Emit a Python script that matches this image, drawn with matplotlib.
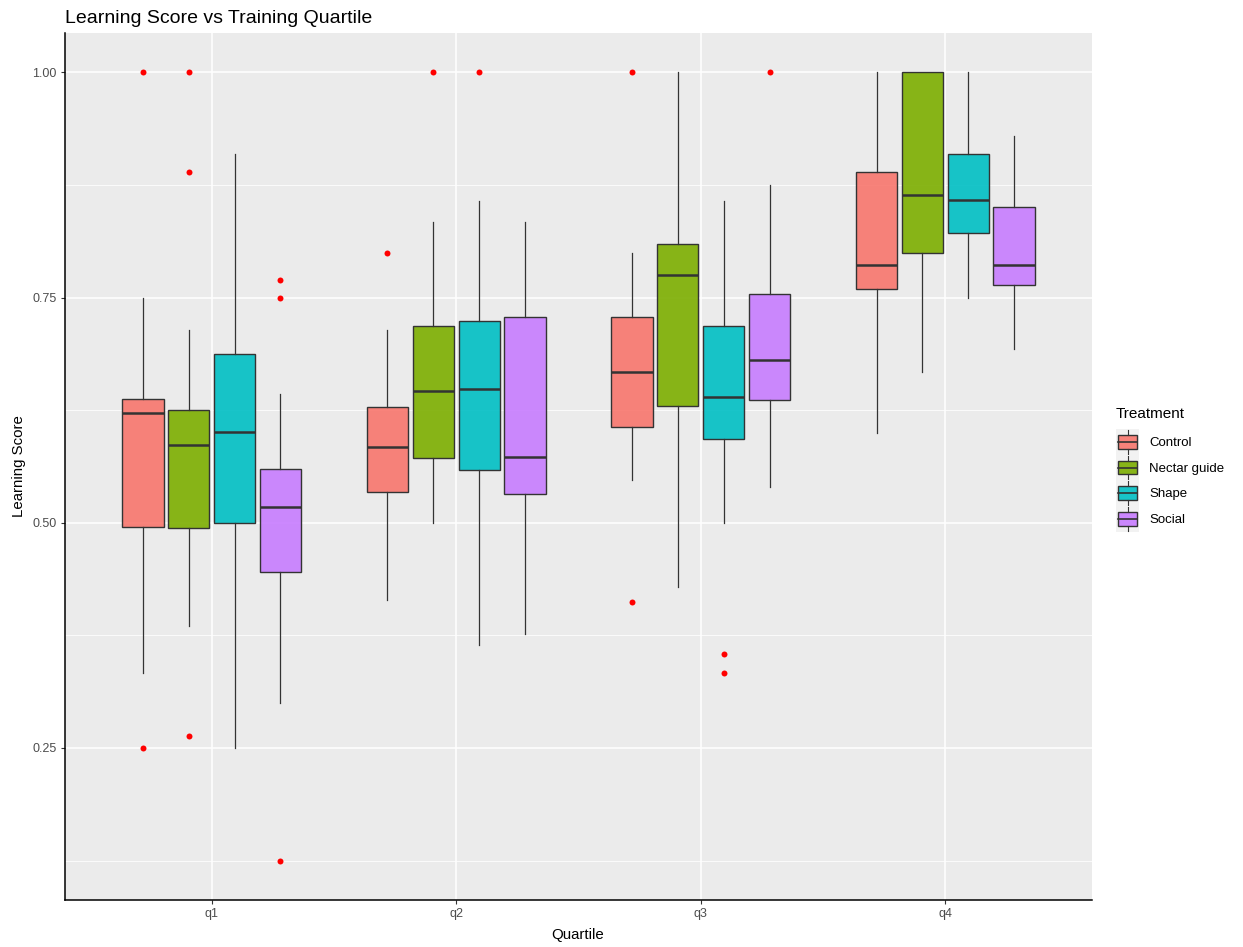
import matplotlib
matplotlib.use('Agg')
import matplotlib.pyplot as plt
from matplotlib.legend_handler import HandlerBase
from matplotlib.patches import Rectangle, Patch
from matplotlib.lines import Line2D
from matplotlib.colors import to_rgba

plt.rcParams['font.family'] = ['Liberation Sans', 'DejaVu Sans']

quartiles = ['q1', 'q2', 'q3', 'q4']
treatments = ['Control', 'Nectar guide', 'Shape', 'Social']
fills = ['#F8766D', '#7CAE00', '#00BFC4', '#C77CFF']

# per quartile: lower whisker, Q1, median, Q3, upper whisker
control = [[0.333, 0.495, 0.622, 0.637, 0.750],
           [0.414, 0.534, 0.584, 0.629, 0.714],
           [0.547, 0.606, 0.667, 0.728, 0.800],
           [0.600, 0.760, 0.786, 0.889, 1.000]]
nectar = [[0.385, 0.494, 0.586, 0.625, 0.714],
          [0.500, 0.572, 0.646, 0.719, 0.834],
          [0.429, 0.630, 0.775, 0.809, 1.000],
          [0.667, 0.800, 0.864, 1.000, 1.000]]
shape = [[0.250, 0.500, 0.601, 0.687, 0.909],
         [0.364, 0.559, 0.648, 0.724, 0.857],
         [0.500, 0.593, 0.640, 0.718, 0.857],
         [0.750, 0.822, 0.858, 0.909, 1.000]]
social = [[0.300, 0.445, 0.518, 0.560, 0.643],
          [0.377, 0.532, 0.573, 0.729, 0.834],
          [0.540, 0.636, 0.681, 0.754, 0.875],
          [0.693, 0.764, 0.786, 0.851, 0.929]]

control_out = [[0.25, 1.0], [0.80], [0.412, 1.0], []]
nectar_out = [[0.263, 0.889, 1.0], [1.0], [], []]
shape_out = [[], [1.0], [0.333, 0.354], []]
social_out = [[0.125, 0.75, 0.769], [], [1.0], []]

groups = [(control, control_out), (nectar, nectar_out),
          (shape, shape_out), (social, social_out)]


class BoxKey(HandlerBase):
    def create_artists(self, legend, orig_handle, xdescent, ydescent,
                       width, height, fontsize, trans):
        x0, y0 = -xdescent, -ydescent
        bg = Rectangle((x0, y0), width, height, facecolor='#F2F2F2',
                       edgecolor='none', transform=trans)
        bx, bw = x0 + width * 0.08, width * 0.84
        by, bh = y0 + height * 0.23, height * 0.54
        box = Rectangle((bx, by), bw, bh, facecolor=orig_handle.get_facecolor(),
                        edgecolor='#333333', lw=1.0, transform=trans)
        cx = x0 + width / 2
        med = Line2D([bx, bx + bw], [y0 + height / 2] * 2, color='#333333',
                     lw=1.2, transform=trans)
        up = Line2D([cx, cx], [by + bh, y0 + height * 0.96], color='#333333',
                    lw=0.8, transform=trans)
        lo = Line2D([cx, cx], [y0 + height * 0.04, by], color='#333333',
                    lw=0.8, transform=trans)
        return [bg, box, med, up, lo]


W, H = 1243, 947
fig = plt.figure(figsize=(W / 100, H / 100), dpi=100)
ax = fig.add_axes([65 / W, 1 - 900 / H, (1092 - 65) / W, (900 - 33) / H])
ax.set_facecolor('#EBEBEB')

dodge = 0.75 / len(treatments)
for i, ((stats5, outs), col) in enumerate(zip(groups, fills)):
    stats = []
    for s, o in zip(stats5, outs):
        stats.append(dict(whislo=s[0], q1=s[1], med=s[2], q3=s[3],
                          whishi=s[4], fliers=o))
    pos = [k + 1 + (i - 1.5) * dodge for k in range(len(quartiles))]
    ax.bxp(stats, positions=pos, widths=dodge * 0.9, patch_artist=True,
           showcaps=False, manage_ticks=False,
           boxprops=dict(facecolor=to_rgba(col, 0.9), edgecolor='#333333', lw=1.0),
           medianprops=dict(color='#333333', lw=1.8),
           whiskerprops=dict(color='#333333', lw=0.9),
           flierprops=dict(marker='o', markerfacecolor='red',
                           markeredgecolor='none', markersize=4.3))

ax.set_xlim(0.4, 4.6)
ax.set_ylim(0.08125, 1.04375)
ax.set_xticks(range(1, 5))
ax.set_xticklabels(quartiles)
ax.set_yticks([0.25, 0.5, 0.75, 1.0])
ax.set_yticklabels(['0.25', '0.50', '0.75', '1.00'])
ax.set_yticks([0.125, 0.375, 0.625, 0.875], minor=True)
ax.grid(which='major', color='white', lw=1.1)
ax.grid(which='minor', axis='y', color='white', lw=0.55)
ax.set_axisbelow(True)
ax.tick_params(which='major', length=3, color='#333333', labelcolor='#4D4D4D',
               labelsize=9, pad=3)
ax.tick_params(which='minor', length=0)
for side in ['top', 'right']:
    ax.spines[side].set_visible(False)
for side in ['left', 'bottom']:
    ax.spines[side].set_color('black')
    ax.spines[side].set_linewidth(1.1)

fig.text(65 / W, 1 - 23 / H, 'Learning Score vs Training Quartile',
         fontsize=14, ha='left', va='baseline')
fig.text(19 / W, 1 - 466 / H, 'Learning Score', fontsize=10.8, rotation=90,
         ha='center', va='center')
fig.text(578 / W, 1 - 935 / H, 'Quartile', fontsize=10.8,
         ha='center', va='center')

# legend title placed on its own so the gap above the keys can be set
fig.text(1116 / W, 1 - 414 / H, 'Treatment', fontsize=11,
         ha='left', va='center')
handles = [Patch(facecolor=to_rgba(c, 0.9)) for c in fills]
leg = fig.legend(handles, treatments, loc='upper left',
                 bbox_to_anchor=(1116 / W, 1 - 429 / H),
                 bbox_transform=fig.transFigure, frameon=False,
                 fontsize=9.5, handler_map={Patch: BoxKey()},
                 handlelength=1.75, handleheight=2.62, labelspacing=0,
                 handletextpad=0.75, borderpad=0, borderaxespad=0)

fig.savefig('out.png', dpi=100)
